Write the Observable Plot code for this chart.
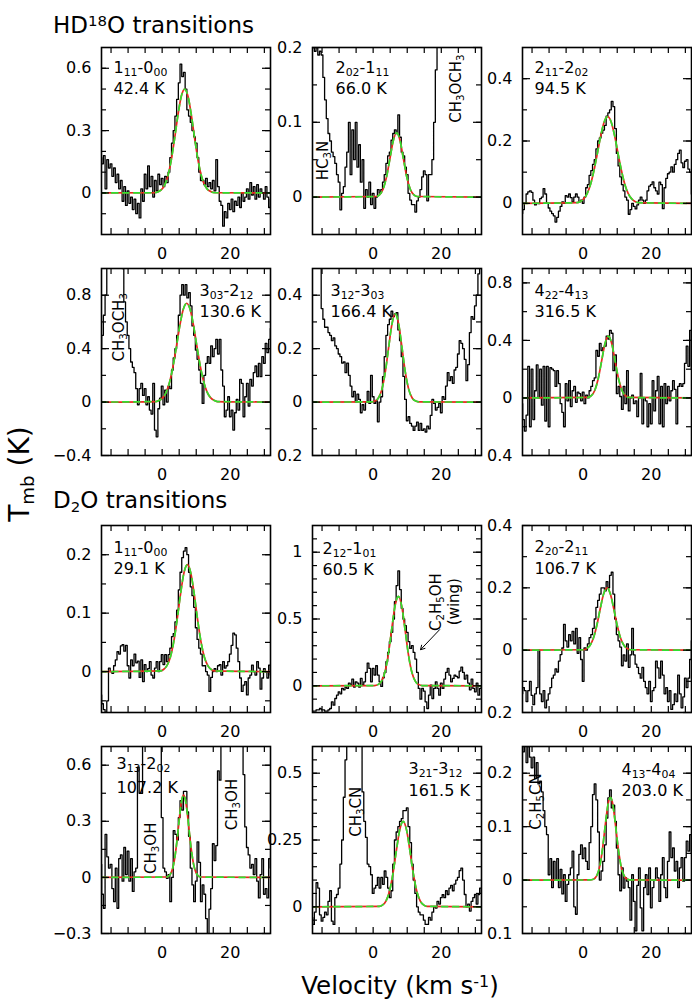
<!DOCTYPE html>
<html><head><meta charset="utf-8">
<script src="https://cdn.jsdelivr.net/npm/d3@7"></script>
<script src="https://cdn.jsdelivr.net/npm/@observablehq/plot@0.6"></script>
<style>
body{margin:0;background:#fff;}
#fig{position:relative;width:692px;height:1006px;font-family:"DejaVu Sans",sans-serif;color:#000;overflow:hidden;}
.lbl{position:absolute;white-space:nowrap;line-height:1;}
.up{position:relative;top:-0.45em;font-size:0.65em;}
.dn{position:relative;top:0.3em;font-size:0.65em;}
</style></head><body><div id="fig"></div>
<script>
// ---------------- DATA ----------------
const channels = [-18,-17.5,-17,-16.5,-16,-15.5,-15,-14.5,-14,-13.5,
 -13,-12.5,-12,-11.5,-11,-10.5,-10,-9.5,-9,-8.5,
 -8,-7.5,-7,-6.5,-6,-5.5,-5,-4.5,-4,-3.5,
 -3,-2.5,-2,-1.5,-1,-0.5,0,0.5,1,1.5,
 2,2.5,3,3.5,4,4.5,5,5.5,6,6.5,
 7,7.5,8,8.5,9,9.5,10,10.5,11,11.5,
 12,12.5,13,13.5,14,14.5,15,15.5,16,16.5,
 17,17.5,18,18.5,19,19.5,20,20.5,21,21.5,
 22,22.5,23,23.5,24,24.5,25,25.5,26,26.5,
 27,27.5,28,28.5,29,29.5,30,30.5,31,31.5,32];

const tmbHD18O_111_000 = [0.17,0.14,0.18,0.02,0.16,0.12,0.14,0.08,0.12,0.05,
 0.09,0.02,0.06,-0.04,0.03,-0.06,0.01,-0.05,-0.02,-0.08,
 -0.03,-0.1,-0.05,-0.12,0.02,-0.04,0.09,0.02,0.13,0.03,
 0.08,-0.02,0.06,0.01,0.09,0.04,0.07,0.03,0.08,0.05,
 0.1,0.17,0.24,0.3,0.37,0.45,0.53,0.62,0.56,0.58,
 0.5,0.4,0.37,0.34,0.3,0.27,0.24,0.17,0.1,0.06,
 0.06,0.04,0.07,0.03,0.05,0.02,0.06,0.01,0.16,0.03,
 -0.04,-0.06,-0.16,-0.09,-0.12,-0.05,-0.08,-0.03,-0.09,-0.04,
 -0.06,-0.02,-0.07,0.0,-0.04,-0.02,0.02,-0.03,0.05,-0.01,
 0.03,-0.03,0.04,-0.02,0.02,0.0,-0.03,0.03,-0.02,-0.07,-0.03];
const tmbHD18O_202_111 = [0.21,0.2,0.195,0.2,0.19,0.195,0.19,0.16,0.13,0.105,
 0.085,0.075,0.06,0.054,0.045,0.03,0.02,-0.017,0.005,0.014,
 0.04,0.06,0.1,0.03,0.09,0.05,0.1,0.04,0.07,0.02,
 0.05,-0.015,0.01,0.0,0.02,-0.01,0.005,-0.015,0.0,0.01,
 0.005,0.01,0.02,0.03,0.045,0.055,0.06,0.076,0.085,0.09,
 0.085,0.11,0.08,0.06,0.055,0.04,0.03,0.005,-0.004,-0.01,
 -0.01,-0.02,-0.005,0.0,0.01,0.027,0.035,0.03,-0.005,0.03,
 0.03,0.05,0.1,0.17,0.25,0.32,0.4,0.48,0.55,0.6,
 0.65,0.7,0.75,0.8,0.85,0.9,0.95,1.0,1.0,1.0,
 1.0,1.0,1.0,1.0,1.0,1.0,1.0,1.0,1.0,1.0,1.0];
const tmbHD18O_211_202 = [-0.033,-0.02,0.0,0.03,0.037,0.04,0.035,0.01,-0.005,0.0,
 -0.001,0.015,0.02,0.047,0.03,0.0,-0.015,-0.025,-0.033,-0.04,
 -0.06,-0.045,-0.025,-0.01,0.005,0.0,0.025,0.02,0.03,0.018,
 0.005,0.02,0.03,0.02,0.005,0.01,0.0,0.02,0.05,0.06,
 0.09,0.105,0.125,0.14,0.175,0.2,0.21,0.225,0.235,0.25,
 0.28,0.29,0.3,0.327,0.31,0.24,0.16,0.12,0.085,0.06,
 0.04,0.02,0.01,-0.035,-0.02,0.0,-0.01,-0.018,-0.005,0.01,
 0.02,0.01,0.0,0.01,0.04,0.055,0.06,0.069,0.05,0.04,
 0.03,0.068,0.06,-0.017,0.05,0.08,0.095,0.1,0.117,0.1,
 0.125,0.14,0.16,0.171,0.13,0.115,0.135,0.14,0.11,0.1,0.03];
const tmbHD18O_303_212 = [0.4,0.5,0.65,0.8,1.2,1.5,1.8,2.0,2.0,2.0,
 2.0,2.0,2.0,1.0,0.75,0.6,0.5,0.4,0.3,0.26,
 0.22,0.1,-0.02,0.1,0.14,0.05,0.1,-0.02,0.04,-0.06,
 -0.09,0.14,-0.21,-0.26,-0.05,0.03,0.12,-0.02,0.09,0.0,
 0.12,0.1,0.24,0.33,0.4,0.5,0.65,0.8,0.88,0.8,
 0.88,0.78,0.82,0.72,0.57,0.5,0.39,0.32,0.24,0.14,
 -0.01,0.2,0.29,0.34,0.29,0.42,0.34,0.4,0.47,0.36,
 0.47,0.24,0.12,-0.11,-0.06,0.04,-0.11,-0.06,-0.21,-0.08,
 0.02,-0.06,0.17,0.14,-0.11,0.04,0.14,-0.03,0.17,0.12,
 0.22,0.27,0.19,0.29,0.19,0.34,0.29,0.44,0.37,0.47,0.55];
const tmbHD18O_312_303 = [0.8,0.8,0.75,0.7,0.65,0.55,0.35,0.31,0.28,0.28,
 0.26,0.25,0.23,0.24,0.21,0.2,0.18,0.17,0.146,0.15,
 0.11,0.146,0.1,0.06,0.02,0.04,0.0,0.03,0.01,-0.04,
 -0.01,-0.03,0.0,0.04,-0.005,0.1,0.02,-0.005,0.005,-0.074,
 0.0,0.02,0.095,0.17,0.25,0.29,0.31,0.34,0.32,0.33,
 0.335,0.27,0.23,0.17,0.096,0.01,-0.07,-0.055,-0.08,-0.09,
 -0.106,-0.09,-0.075,-0.106,-0.08,-0.106,-0.1,-0.112,-0.09,-0.1,
 -0.05,0.01,-0.005,-0.03,-0.02,-0.005,-0.04,0.02,0.01,0.06,
 0.11,0.08,0.095,0.07,0.12,0.13,0.18,0.23,0.22,0.2,
 0.16,0.08,0.14,0.26,0.32,0.31,0.36,0.4,0.48,0.55,0.6];
const tmbHD18O_422_413 = [-0.04,-0.15,-0.23,-0.12,0.22,-0.2,0.2,-0.15,0.05,0.23,
 0.0,0.2,-0.05,0.22,-0.16,0.22,-0.2,0.21,0.2,0.19,
 0.08,0.19,0.1,-0.04,-0.1,-0.2,0.1,-0.02,0.12,-0.06,
 0.05,0.08,-0.03,0.04,0.03,-0.02,0.04,-0.04,0.02,0.0,
 0.05,0.08,0.12,0.14,0.33,0.29,0.38,0.33,0.35,0.36,
 0.43,0.41,0.47,0.45,0.19,0.3,0.03,0.08,0.01,-0.08,
 0.08,-0.04,0.19,-0.09,0.0,0.02,-0.04,-0.02,-0.13,0.0,
 0.17,-0.18,0.0,-0.02,-0.2,-0.04,-0.18,0.12,-0.09,0.05,
 0.15,-0.18,0.08,-0.2,0.1,-0.04,0.08,-0.02,0.05,0.12,
 0.06,-0.18,0.08,0.1,0.08,0.1,0.24,0.36,0.22,0.47,0.2];
const tmbD2O_111_000 = [-0.04,-0.055,-0.065,-0.07,-0.05,0.006,0.0,-0.003,0.01,0.02,
 0.034,0.03,0.044,0.046,0.035,0.045,0.01,-0.011,0.02,0.01,
 0.03,0.015,0.018,-0.01,0.02,-0.017,0.012,0.0,0.005,0.017,
 -0.006,-0.011,0.006,0.017,0.0,0.017,0.029,0.012,0.029,0.017,
 0.029,0.04,0.06,0.065,0.085,0.105,0.14,0.17,0.195,0.206,
 0.212,0.2,0.17,0.145,0.13,0.11,0.075,0.055,0.04,0.03,
 0.01,0.01,0.0,-0.006,-0.034,-0.01,0.0,0.005,0.0,0.01,
 0.012,-0.006,0.017,0.006,0.01,0.017,0.03,0.045,0.066,0.063,
 0.04,0.017,-0.011,-0.034,-0.023,-0.017,-0.04,-0.011,-0.006,0.011,
 0.0,-0.006,0.017,0.006,-0.03,-0.011,0.005,0.0,-0.011,0.011,-0.006];
const tmbD2O_212_101 = [-0.2,-0.19,-0.19,-0.18,-0.18,-0.17,-0.18,-0.18,-0.19,-0.19,
 -0.18,-0.17,-0.12,-0.145,-0.095,-0.07,-0.045,-0.06,-0.02,-0.03,
 -0.01,-0.02,0.02,0.005,0.05,-0.01,0.03,0.02,-0.01,0.055,
 0.005,0.03,0.1,0.17,0.13,0.03,0.13,0.08,0.15,0.08,
 0.03,-0.005,0.06,0.1,0.18,0.25,0.33,0.4,0.5,0.63,
 0.75,0.86,0.72,0.58,0.5,0.45,0.4,0.33,0.28,0.3,
 0.25,0.2,0.1,-0.02,-0.1,-0.02,-0.04,-0.12,-0.17,-0.07,
 0.005,-0.095,-0.02,0.03,-0.02,-0.07,0.02,-0.02,0.05,0.1,
 0.13,0.08,0.03,0.055,0.08,0.07,0.06,0.11,0.14,0.1,
 0.05,0.08,0.02,-0.03,0.05,-0.02,-0.045,0.02,-0.07,-0.02,0.0];
const tmbD2O_220_211 = [-0.14,-0.12,-0.13,-0.165,-0.13,-0.1,-0.145,-0.175,-0.14,-0.12,
 0.0,-0.14,-0.165,-0.13,-0.185,-0.16,-0.14,-0.12,-0.09,-0.08,
 -0.06,-0.07,-0.035,-0.014,0.007,0.083,0.03,0.01,0.05,0.03,
 0.06,0.02,0.07,-0.01,0.04,-0.03,-0.1,0.007,0.0,0.02,
 0.04,0.05,0.07,0.1,0.137,0.16,0.18,0.2,0.2,0.19,
 0.22,0.2,0.24,0.25,0.18,0.1,0.05,0.03,0.01,-0.05,
 -0.015,-0.035,0.02,-0.055,-0.015,0.07,-0.015,-0.045,-0.055,-0.075,
 -0.09,-0.055,-0.1,-0.12,-0.14,-0.1,-0.165,-0.13,-0.12,-0.035,
 -0.057,-0.09,-0.035,-0.08,-0.14,-0.12,-0.165,-0.13,-0.19,-0.175,
 -0.14,-0.165,-0.08,-0.14,-0.185,-0.15,-0.09,-0.12,-0.09,-0.03,0.03];
const tmbD2O_313_202 = [0.07,-0.09,-0.165,0.23,0.11,0.05,0.07,-0.06,-0.13,0.05,
 -0.165,0.1,0.12,-0.02,0.16,0.015,0.14,-0.02,0.1,-0.075,
 0.03,0.05,0.59,0.45,0.45,0.9,1.1,1.3,1.4,1.4,
 1.3,1.2,1.1,1.0,0.9,0.75,0.32,0.05,0.03,-0.005,
 0.015,-0.13,0.0,0.25,0.23,0.2,0.32,0.41,0.36,0.46,
 0.46,0.35,0.22,0.05,-0.04,-0.13,-0.02,0.19,0.08,-0.13,
 -0.04,-0.09,-0.22,-0.32,-0.17,-0.06,0.18,0.09,0.17,0.57,
 0.52,0.9,1.2,1.4,1.5,1.5,1.5,1.4,1.3,1.2,
 1.1,1.0,0.9,0.8,0.55,0.27,0.16,0.12,0.05,0.07,
 0.015,0.1,-0.02,-0.11,0.015,0.1,-0.09,-0.06,-0.11,0.1,0.05];
const tmbD2O_321_312 = [-0.04,-0.066,-0.02,0.09,0.07,-0.03,-0.054,-0.04,-0.02,-0.03,
 0.02,0.06,-0.054,-0.066,0.034,0.046,0.07,0.16,0.25,0.41,
 0.55,0.62,0.7,0.8,0.85,0.85,0.8,0.75,0.7,0.62,
 0.43,0.32,0.26,0.16,0.15,0.12,0.05,0.07,0.08,0.11,
 0.07,0.11,0.084,0.134,0.11,0.07,0.034,0.06,0.16,0.25,
 0.28,0.3,0.32,0.33,0.36,0.36,0.37,0.3,0.24,0.16,
 0.1,0.05,0.0,-0.02,-0.03,-0.03,-0.05,-0.066,-0.066,-0.04,
 -0.05,-0.02,0.0,-0.005,0.02,0.01,0.034,0.045,0.034,0.06,
 0.046,0.07,0.08,0.06,0.085,0.1,0.11,0.135,0.145,0.1,
 0.046,0.0,0.01,-0.016,0.02,0.034,0.046,0.01,0.046,0.07,0.05];
const tmbD2O_413_404 = [0.26,0.24,0.26,0.22,0.25,0.23,0.21,0.23,0.19,0.22,
 0.18,0.185,0.165,0.13,0.1,0.085,0.01,0.04,-0.014,0.035,
 0.0,0.04,-0.014,0.02,-0.026,0.01,-0.04,-0.008,0.01,0.023,
 0.054,-0.05,-0.064,0.01,0.048,0.066,0.04,0.06,0.035,0.02,
 0.07,0.1,0.16,0.18,0.15,0.09,0.0,0.017,0.035,0.066,
 0.116,0.154,0.169,0.135,0.14,0.11,0.06,0.01,-0.02,0.023,
 -0.015,0.004,-0.002,-0.014,-0.075,0.01,-0.04,-0.095,-0.01,0.023,
 -0.052,-0.095,-0.014,0.01,-0.027,0.023,-0.052,-0.014,0.0,0.023,
 0.004,-0.04,0.01,0.042,-0.014,-0.033,0.035,0.09,0.042,0.06,
 0.017,0.035,-0.014,0.023,0.042,-0.002,0.042,0.073,0.054,0.085,0.05];

// Gaussian fits
const fitVel_1 = [-18,-2.4,-0.4,0.6,1.6,2.6,3.6,4.6,5.6,6.6,7.6,8.6,9.6,10.6,11.6,12.6,13.6,15.6,32];
const fitT_1   = [0,0.001,0.013,0.034,0.077,0.152,0.256,0.371,0.464,0.5,0.464,0.371,0.256,0.152,0.077,0.034,0.013,0.001,0];
const fitVel_2 = [-18,0.9,1.9,2.9,3.9,4.9,5.9,6.9,7.9,8.9,9.9,10.9,11.9,12.9,32];
const fitT_2   = [0,0.0008,0.0032,0.0105,0.0263,0.0508,0.0754,0.086,0.0754,0.0508,0.0263,0.0105,0.0032,0.0008,0];
const fitVel_3 = [-18,-1.8,-0.8,0.2,1.2,2.2,3.2,4.2,5.2,6.2,7.2,8.2,9.2,10.2,11.2,12.2,13.2,14.2,15.2,16.2,32];
const fitT_3   = [0,0.002,0.006,0.015,0.032,0.062,0.107,0.162,0.219,0.262,0.278,0.262,0.219,0.162,0.107,0.062,0.032,0.015,0.006,0.002,0];
const fitVel_4 = [-18,-1.8,-0.8,0.2,1.2,2.2,3.2,4.2,5.2,6.2,7.2,8.2,9.2,10.2,11.2,12.2,13.2,14.2,15.2,16.2,32];
const fitT_4   = [0,0.004,0.013,0.033,0.075,0.151,0.267,0.417,0.574,0.694,0.74,0.694,0.574,0.417,0.267,0.151,0.075,0.033,0.013,0.004,0];
const fitVel_5 = [-18,-0.5,0.5,1.5,2.5,3.5,4.5,5.5,6.5,7.5,8.5,9.5,10.5,11.5,12.5,13.5,32];
const fitT_5   = [0,0.0007,0.0037,0.0145,0.0447,0.107,0.2,0.291,0.33,0.291,0.2,0.107,0.0447,0.0145,0.0037,0.0007,0];
const fitVel_6 = [-18,1.4,2.4,3.4,4.4,5.4,6.4,7.4,8.4,9.4,10.4,11.4,12.4,13.4,32];
const fitT_6   = [0,0.0038,0.016,0.052,0.132,0.254,0.377,0.43,0.377,0.254,0.132,0.052,0.016,0.0038,0];
const fitVel_7 = [-18,-0.6,0.4,1.4,2.4,3.4,4.4,5.4,6.4,7.4,8.4,9.4,10.4,11.4,12.4,13.4,14.4,15.4,32];
const fitT_7   = [0,0.0011,0.0036,0.0102,0.0247,0.051,0.089,0.133,0.169,0.183,0.169,0.133,0.089,0.051,0.0247,0.0102,0.0036,0.0011,0];
const fitVel_8 = [-18,0.4,1.4,2.4,3.4,4.4,5.4,6.4,7.4,8.4,9.4,10.4,11.4,12.4,13.4,14.4,32];
const fitT_8   = [0,0.0018,0.0087,0.033,0.097,0.226,0.414,0.594,0.67,0.594,0.414,0.226,0.097,0.033,0.0087,0.0018,0];
const fitVel_9 = [-18,0,1,2,3,4,5,6,7,8,9,10,11,12,13,14,32];
const fitT_9   = [0,0.0013,0.0049,0.015,0.038,0.079,0.132,0.18,0.2,0.18,0.132,0.079,0.038,0.015,0.0049,0.0013,0];
const fitVel_10 = [-18,1.3,2.3,2.8,3.3,3.8,4.3,4.8,5.3,5.8,6.3,6.8,7.3,7.8,8.3,8.8,9.3,9.8,10.3,11.3,32];
const fitT_10   = [0,0.0021,0.0144,0.032,0.064,0.116,0.187,0.272,0.356,0.417,0.44,0.417,0.356,0.272,0.187,0.116,0.064,0.032,0.0144,0.0021,0];
const fitVel_11 = [-18,1.8,2.8,3.8,4.8,5.8,6.8,7.8,8.8,9.8,10.8,11.8,12.8,13.8,14.8,15.8,32];
const fitT_11   = [0,0.0017,0.0069,0.0224,0.058,0.123,0.209,0.288,0.32,0.288,0.209,0.123,0.058,0.0224,0.0069,0.0017,0];
const fitVel_12 = [-18,2,3,4,4.5,5,5.5,6,6.5,7,7.5,8,8.5,9,9.5,10,10.5,11,11.5,12,13,14,32];
const fitT_12   = [0,0.0002,0.0016,0.0084,0.0167,0.03,0.0498,0.075,0.103,0.129,0.148,0.155,0.148,0.129,0.103,0.075,0.0498,0.03,0.0167,0.0084,0.0016,0.0002,0];

const transitions = ["1_{11}-0_{00}","2_{02}-1_{11}","2_{11}-2_{02}","3_{03}-2_{12}","3_{12}-3_{03}","4_{22}-4_{13}",
                     "1_{11}-0_{00}","2_{12}-1_{01}","2_{20}-2_{11}","3_{13}-2_{02}","3_{21}-3_{12}","4_{13}-4_{04}"];
const upperEnergies = ["42.4 K","66.0 K","94.5 K","130.6 K","166.4 K","316.5 K",
                       "29.1 K","60.5 K","106.7 K","107.2 K","161.5 K","203.0 K"];
const velocityDomain = [-17.8, 31.8];
const velocityTicks = [-15,-10,-5,0,5,10,15,20,25,30];
const velocityTickLabels = [0, 20];
const tmbDomains = [[-0.2,0.7],[-0.05,0.2],[-0.1,0.5],[-0.4,1.0],[-0.2,0.5],[-0.4,0.9],
                    [-0.07,0.25],[-0.2,1.2],[-0.2,0.4],[-0.3,0.7],[-0.1,0.6],[-0.1,0.25]];
const tmbMinorTicks = [
  [-0.1,0,0.1,0.2,0.3,0.4,0.5,0.6],
  [0,0.05,0.1,0.15],
  [0,0.1,0.2,0.3,0.4],
  [-0.2,0,0.2,0.4,0.6,0.8],
  [-0.1,0,0.1,0.2,0.3,0.4],
  [-0.2,0,0.2,0.4,0.6,0.8],
  [-0.05,0,0.05,0.1,0.15,0.2],
  [-0.1,0,0.1,0.2,0.3,0.4,0.5,0.6,0.7,0.8,0.9,1.0,1.1],
  [-0.1,0,0.1,0.2,0.3],
  [-0.15,0,0.15,0.3,0.45,0.6],
  [-0.05,0,0.05,0.1,0.15,0.2,0.25,0.3,0.35,0.4,0.45,0.5,0.55],
  [-0.05,0,0.05,0.1,0.15,0.2]];
const tmbMajorTicks = [[0,0.3,0.6],[0,0.1,0.2],[0,0.2,0.4],[-0.4,0,0.4,0.8],[-0.2,0,0.2,0.4],[-0.4,0,0.4,0.8],
                       [0,0.1,0.2],[0,0.5,1],[-0.2,0,0.2,0.4],[-0.3,0,0.3,0.6],[0,0.25,0.5],[-0.1,0,0.1,0.2]];
const tmbTickLabels = [["0","0.3","0.6"],["0","0.1","0.2"],["0","0.2","0.4"],["\u22120.4","0","0.4","0.8"],["0.2","0","0.2","0.4"],["0.4","0","0.4","0.8"],
                       ["0","0.1","0.2"],["0","0.5","1"],["0.2","0","0.2","0.4"],["\u22120.3","0","0.3","0.6"],["0","0.25","0.5"],["0.1","0","0.1","0.2"]];
// blended lines of other molecules: [panel index, label, velocity, Tmb]
const blendLabels = [
  [1,"HC_{3}N",-14.8,0.049],
  [1,"CH_{3}OCH_{3}",24.5,0.145],
  [3,"CH_{3}OCH_{3}",-12.6,0.56],
  [7,"C_{2}H_{5}OH",18.6,0.627],
  [7,"(wing)",23.9,0.63],
  [9,"CH_{3}OH",-3.3,0.156],
  [9,"CH_{3}OH",20.7,0.39],
  [10,"CH_{3}CN",-5.1,0.356],
  [11,"C_{2}H_{5}CN",-13.7,0.147]];
// arrow pointing at the C2H5OH wing: [panel, v1, T1, v2, T2]
const wingArrow = [[7, 19.5, 0.42, 13.9, 0.27]];

const spectra = [tmbHD18O_111_000,tmbHD18O_202_111,tmbHD18O_211_202,tmbHD18O_303_212,tmbHD18O_312_303,tmbHD18O_422_413,
                 tmbD2O_111_000,tmbD2O_212_101,tmbD2O_220_211,tmbD2O_313_202,tmbD2O_321_312,tmbD2O_413_404];
const fitVels = [fitVel_1,fitVel_2,fitVel_3,fitVel_4,fitVel_5,fitVel_6,fitVel_7,fitVel_8,fitVel_9,fitVel_10,fitVel_11,fitVel_12];
const fitTs = [fitT_1,fitT_2,fitT_3,fitT_4,fitT_5,fitT_6,fitT_7,fitT_8,fitT_9,fitT_10,fitT_11,fitT_12];

// ---------------- LAYOUT / STYLE ----------------
const PW = 169, PH = 187;
const ML = 55, MR = 6, MT = 14, MB = 34;
const colLeft = [101, 312, 522];
const rowTop = [47, 268, 525, 746];
const labelPos = [[12,25,46],[23,25,46],[12,25,46],[98,27,48],[18,27,48],[12,27,48],
                  [12,27,48],[10,28,49],[12,26,48],[15,22,46],[96,27,49],[99,28,49]];
const RED = "#e8281e", GREEN = "#30e030";

function richify(svg) {
  svg.querySelectorAll("text").forEach(t => {
    const s = t.textContent;
    if (!/[_^]\{/.test(s)) return;
    const fs = parseFloat(getComputedStyle(t).fontSize) || 16;
    t.textContent = "";
    let shift = 0;
    for (const part of s.split(/([_^]\{[^}]*\})/)) {
      if (!part) continue;
      const ts = document.createElementNS("http://www.w3.org/2000/svg", "tspan");
      let target = 0, txt = part, small = false;
      if (part.startsWith("_{")) { target = 0.2 * fs; txt = part.slice(2, -1); small = true; }
      else if (part.startsWith("^{")) { target = -0.4 * fs; txt = part.slice(2, -1); small = true; }
      ts.setAttribute("dy", (target - shift).toFixed(2));
      shift = target;
      if (small) ts.setAttribute("font-size", (0.68 * fs).toFixed(2));
      ts.textContent = txt;
      t.appendChild(ts);
    }
  });
}

const fig = document.getElementById("fig");

function addLabel(html, css) {
  const d = document.createElement("div");
  d.className = "lbl";
  d.innerHTML = html;
  Object.assign(d.style, css);
  fig.appendChild(d);
  return d;
}

for (let i = 0; i < 12; i++) {
  const spec = channels.map((v, k) => ({v, t: spectra[i][k]}));
  const fit = fitVels[i].map((v, k) => ({v, t: fitTs[i][k]}));
  const lab = new Map(tmbMajorTicks[i].map((d, k) => [d, tmbTickLabels[i][k]]));
  const blends = blendLabels.filter(b => b[0] === i);
  const arrows = wingArrow.filter(a => a[0] === i);
  const [dx, dy1, dy2] = labelPos[i];
  const tk = {stroke: "#000", strokeWidth: 1.2};
  const svg = Plot.plot({
    width: ML + PW + MR, height: MT + PH + MB,
    marginLeft: ML, marginRight: MR, marginTop: MT, marginBottom: MB,
    style: {background: "transparent", overflow: "visible", fontFamily: "DejaVu Sans, sans-serif", fontSize: "16px", color: "#000"},
    x: {domain: velocityDomain},
    y: {domain: tmbDomains[i]},
    marks: [
      Plot.line(spec, {x: "v", y: "t", curve: "step", stroke: "#000", strokeWidth: 1.3, clip: true}),
      Plot.line(fit, {x: "v", y: "t", curve: "monotone-x", stroke: RED, strokeWidth: 1.7, clip: true}),
      Plot.line(fit, {x: "v", y: "t", curve: "monotone-x", stroke: GREEN, strokeWidth: 1.7, strokeDasharray: "6,5", clip: true}),
      Plot.frame({stroke: "#000", strokeWidth: 1.6}),
      Plot.tickX(velocityTicks, {x: d => d, insetTop: PH - 6, ...tk}),
      Plot.tickX(velocityTicks, {x: d => d, insetBottom: PH - 6, ...tk}),
      Plot.tickY(tmbMinorTicks[i], {y: d => d, insetRight: PW - 5, ...tk}),
      Plot.tickY(tmbMinorTicks[i], {y: d => d, insetLeft: PW - 5, ...tk}),
      Plot.tickY(tmbMajorTicks[i], {y: d => d, insetRight: PW - 8, ...tk}),
      Plot.tickY(tmbMajorTicks[i], {y: d => d, insetLeft: PW - 8, ...tk}),
      Plot.axisX(velocityTickLabels, {tickSize: 0, tickPadding: 13, tickFormat: d => String(d), label: null, fontSize: 16}),
      Plot.axisY(tmbMajorTicks[i], {tickSize: 0, tickPadding: 10, tickFormat: d => lab.get(d), label: null, fontSize: 16}),
      Plot.text([transitions[i]], {text: d => d, frameAnchor: "top-left", dx, dy: dy1, textAnchor: "start", lineAnchor: "bottom", fontSize: 16, fill: "#000"}),
      Plot.text([upperEnergies[i]], {text: d => d, frameAnchor: "top-left", dx, dy: dy2, textAnchor: "start", lineAnchor: "bottom", fontSize: 16, fill: "#000"}),
      Plot.text(blends, {x: d => d[2], y: d => d[3], text: d => d[1], rotate: -90, textAnchor: "middle", lineAnchor: "middle", fontSize: 15, fill: "#000"}),
      Plot.arrow(arrows, {x1: d => d[1], y1: d => d[2], x2: d => d[3], y2: d => d[4], stroke: "#000", strokeWidth: 1, headLength: 7})
    ]
  });
  const col = i % 3, row = Math.floor(i / 3);
  svg.style.position = "absolute";
  svg.style.left = (colLeft[col] - ML) + "px";
  svg.style.top = (rowTop[row] - MT) + "px";
  svg.style.maxWidth = "none";
  fig.appendChild(svg);
  richify(svg);
}

addLabel('HD<span class="up">18</span>O transitions', {left: "53px", top: "13.5px", fontSize: "23px"});
addLabel('D<span class="dn">2</span>O transitions', {left: "53px", top: "488.5px", fontSize: "23px"});
const xl = addLabel('Velocity (km s<span class="up">-1</span>)', {left: "400px", top: "974px", fontSize: "24.5px"});
xl.style.transform = "translateX(-50%)";
const yl = addLabel('T<span class="dn">mb</span> (K)', {left: "20px", top: "474px", fontSize: "28px"});
yl.style.transform = "translate(-50%,-50%) rotate(-90deg)";
</script></body></html>
